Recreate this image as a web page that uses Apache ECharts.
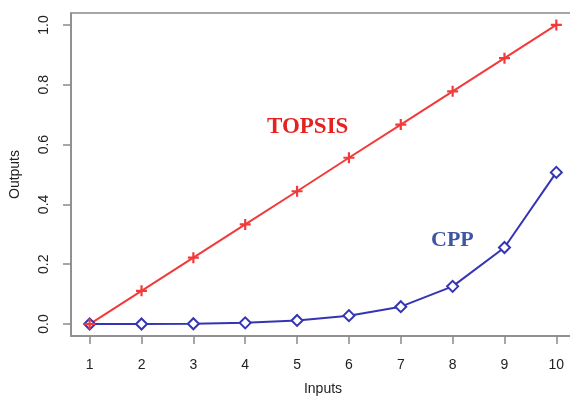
<!DOCTYPE html>
<html>
<head>
<meta charset="utf-8">
<script src="https://cdn.jsdelivr.net/npm/echarts@6/dist/echarts.min.js"></script>
<style>
  html, body { margin: 0; padding: 0; background: #fff; }
  #chart { width: 570px; height: 397px; }
</style>
</head>
<body>
<div id="chart"></div>
<script>
// data
var inputs = [1, 2, 3, 4, 5, 6, 7, 8, 9, 10];
var topsis = [0, 0.111, 0.222, 0.333, 0.444, 0.556, 0.667, 0.778, 0.889, 1.0];
var cpp = [0, 0, 0.001, 0.004, 0.012, 0.028, 0.058, 0.126, 0.256, 0.507];
var yTicks = [0, 0.2, 0.4, 0.6, 0.8, 1.0];

function pairs(ys){
    var out = [];
    for (var i = 0; i < inputs.length; i++) out.push([inputs[i], ys[i]]);
    return out;
}

var axisGray = '#8a8a8a';
var plus = 'path://M4,0H6V4H10V6H6V10H4V6H0V4H4Z';

var chart = echarts.init(document.getElementById('chart'));
var option = {
    backgroundColor: '#fff',
    animation: false,
    textStyle: { fontFamily: 'Liberation Sans' },
    grid: {
        left: 71, top: 13, right: -5, bottom: 61,
        outerBoundsMode: 'none',
        show: true, borderColor: axisGray, borderWidth: 1.5, backgroundColor: '#fff'
    },
    xAxis: {
        type: 'value',
        min: 0.64, max: 10.36,
        name: 'Inputs',
        nameLocation: 'middle',
        nameGap: 46,
        nameTextStyle: { fontSize: 14, color: '#222' },
        axisLine: { show: true, onZero: false, lineStyle: { color: axisGray, width: 1.5 } },
        axisTick: { show: true, length: 8, customValues: inputs, lineStyle: { color: axisGray, width: 1.5 } },
        axisLabel: { customValues: inputs, fontSize: 14, color: '#222', margin: 22 },
        splitLine: { show: false }
    },
    yAxis: {
        type: 'value',
        min: -0.04, max: 1.04,
        name: 'Outputs',
        nameLocation: 'middle',
        nameGap: 49,
        nameTextStyle: { fontSize: 14, color: '#222' },
        axisLine: { show: true, onZero: false, lineStyle: { color: axisGray, width: 1.5 } },
        axisTick: { show: true, length: 8, customValues: yTicks, lineStyle: { color: axisGray, width: 1.5 } },
        axisLabel: {
            customValues: yTicks, fontSize: 14, color: '#222', margin: 20, rotate: 90,
            formatter: function(v){ return v.toFixed(1); }
        },
        splitLine: { show: false }
    },
    graphic: [
        { type: 'text', left: 267, top: 116,
          style: { text: 'TOPSIS', fill: '#e52222', font: 'bold 23px "Liberation Serif"' } },
        { type: 'text', left: 431, top: 229,
          style: { text: 'CPP', fill: '#3d55a4', font: 'bold 22px "Liberation Serif"' } }
    ],
    series: [{
        name: 'CPP',
        type: 'line',
        data: pairs(cpp),
        symbol: 'emptyDiamond',
        symbolSize: 11,
        showAllSymbol: true,
        lineStyle: { color: '#3434b4', width: 2 },
        itemStyle: { color: '#3434b4', borderColor: '#3434b4', borderWidth: 2 }
    },{
        name: 'TOPSIS',
        type: 'line',
        data: pairs(topsis),
        symbol: plus,
        symbolSize: 11,
        showAllSymbol: true,
        lineStyle: { color: '#f23a3a', width: 2 },
        itemStyle: { color: '#f23a3a' }
    }]
};
chart.setOption(option);
</script>
</body>
</html>
